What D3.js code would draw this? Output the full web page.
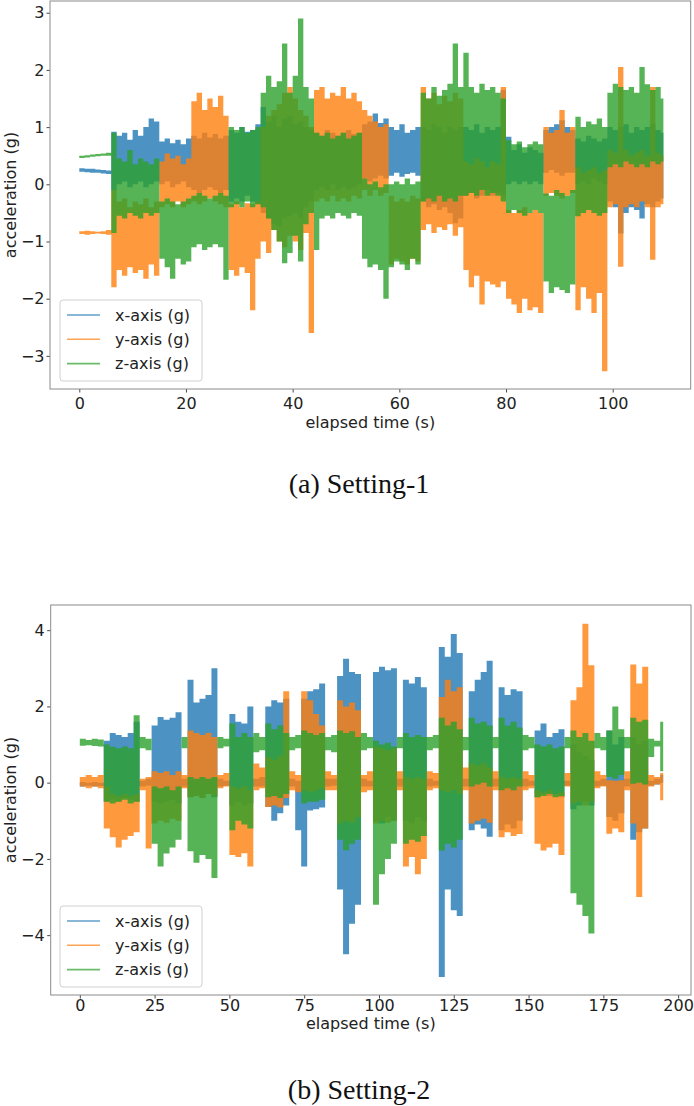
<!DOCTYPE html>
<html><head><meta charset="utf-8">
<script src="https://cdn.jsdelivr.net/npm/d3@7"></script>
<style>body{margin:0;background:#fff}svg{display:block}</style>
</head><body>
<script>
// ---------------- DATA ----------------
const seriesNames = ["x-axis (g)", "y-axis (g)", "z-axis (g)"];
const xTicks1 = [0, 20, 40, 60, 80, 100];
const yTicks1 = [-3, -2, -1, 0, 1, 2, 3];
const xTicks2 = [0, 25, 50, 75, 100, 125, 150, 175, 200];
const yTicks2 = [-4, -2, 0, 2, 4];
const captions = ["(a) Setting-1", "(b) Setting-2"];
const axisLabelX = "elapsed time (s)";
const axisLabelY = "acceleration (g)";

// Setting-1: per-second peak (hi) / trough (lo) readings, t = 0..109 s
const t1Start = 0, t1Step = 1;
const xHi1 = [0.28,0.27,0.27,0.26,0.25,0.24,
 0.92,0.85,0.9,0.78,0.95,0.85,1.0,1.15,1.1,
 0.75,0.8,0.72,0.78,0.7,0.8,
 0.85,0.8,0.9,0.82,0.88,0.8,0.85,
 0.95,0.9,1.0,0.92,0.95,1.05,
 1.35,1.1,1.2,1.0,1.15,1.2,1.05,1.1,1.0,0.95,
 0.9,0.85,0.95,0.9,0.85,0.9,0.95,0.88,0.9,
 1.05,1.1,1.24,1.07,1.15,
 1.0,0.95,1.05,0.9,0.95,1.0,
 1.0,0.95,1.05,1.0,0.9,1.0,0.95,1.0,
 1.0,0.95,1.05,0.9,1.0,0.95,1.0,1.65,
 0.83,0.6,0.7,0.55,0.65,0.6,0.55,
 0.95,1.0,1.05,1.12,1.0,0.95,
 0.8,0.75,0.85,0.8,0.75,0.8,
 1.0,0.95,1.0,1.05,0.9,1.0,0.95,1.0,1.05,0.95,0.9];
const xLo1 = [0.22,0.21,0.2,0.2,0.19,0.18,
 -0.1,0.0,0.05,-0.05,0.0,0.05,-0.05,0.0,0.05,
 0.0,0.05,-0.05,0.0,0.05,-0.05,
 -0.1,-0.15,-0.1,-0.05,-0.1,-0.15,-0.1,
 -0.3,-0.25,-0.3,-0.2,-0.3,-0.35,
 -0.5,-0.6,-0.7,-0.74,-0.6,-0.55,-0.5,-0.6,-0.4,-0.3,
 -0.1,-0.05,-0.1,0.0,-0.1,-0.05,-0.1,-0.05,0.0,
 0.1,0.05,0.1,0.15,0.1,
 0.15,0.2,0.13,0.18,0.2,0.15,
 -0.3,-0.4,-0.35,-0.45,-0.4,-0.5,-0.68,-0.6,
 -0.2,-0.15,-0.25,-0.2,-0.1,-0.2,-0.15,-0.2,
 0.0,0.05,0.0,0.05,0.0,0.05,0.0,
 0.2,0.25,0.2,0.15,0.2,0.2,
 0.0,0.05,0.0,0.1,0.05,0.0,
 -0.3,-0.4,-0.86,-0.5,-0.4,-0.45,-0.6,-0.35,-0.4,-0.3,-0.25];
const yHi1 = [-0.82,-0.81,-0.82,-0.83,-0.82,-0.8,
 -0.1,-0.3,-0.25,-0.4,-0.3,-0.35,-0.25,-0.4,-0.3,
 0.4,0.54,0.45,0.5,0.35,0.45,
 1.45,1.6,1.3,1.5,1.35,1.55,1.2,
 -0.35,-0.3,-0.4,-0.33,-0.35,-0.3,
 1.0,1.2,1.3,1.4,1.6,1.7,1.5,1.3,1.2,1.0,
 1.65,1.7,1.5,1.6,1.55,1.7,1.5,1.6,1.45,
 1.3,1.2,1.1,1.0,1.05,
 -0.2,-0.3,-0.25,-0.3,-0.2,-0.25,
 1.7,1.5,1.6,1.4,1.55,1.45,1.6,1.5,
 0.4,0.35,0.45,0.4,0.3,0.4,0.35,1.7,
 -0.45,-0.5,-0.45,-0.4,-0.5,-0.45,-0.5,
 1.0,0.9,0.95,1.3,0.9,1.0,
 0.3,0.2,0.25,0.3,0.2,0.25,
 0.6,0.55,2.05,0.6,0.5,0.55,0.6,0.5,1.7,0.55,0.5];
const yLo1 = [-0.87,-0.88,-0.87,-0.86,-0.87,-0.88,
 -1.8,-1.5,-1.6,-1.45,-1.55,-1.5,-1.65,-1.4,-1.6,
 -0.4,-0.35,-0.4,-0.3,-0.4,-0.35,
 -0.3,-0.35,-0.3,-0.25,-0.3,-0.35,-0.4,
 -1.5,-1.6,-1.45,-1.55,-2.2,-1.3,
 -1.0,-1.2,-0.8,-1.0,-1.1,-0.9,-1.0,-1.15,-0.85,-2.6,
 -0.3,-0.25,-0.3,-0.2,-0.3,-0.25,-0.3,-0.2,-0.25,
 -0.1,-0.2,-0.1,-0.2,-0.15,
 -1.4,-1.3,-1.35,-1.4,-1.3,-1.35,
 -0.8,-0.7,-0.85,-0.75,-0.8,-0.7,-0.9,-0.75,
 -1.5,-1.8,-1.6,-2.1,-1.7,-1.75,-1.8,-1.7,
 -2.0,-2.1,-2.25,-2.0,-2.2,-2.15,-2.25,
 -0.2,-0.15,-0.2,-0.25,-0.2,-0.15,
 -2.2,-1.8,-2.0,-2.25,-1.9,-3.27,
 -0.4,-0.35,-1.44,-0.4,-0.35,-0.4,-0.3,-0.4,-1.32,-0.4,-0.35];
const zHi1 = [0.5,0.51,0.52,0.53,0.54,0.55,
 0.9,0.45,0.4,0.6,0.35,0.45,0.4,0.35,0.45,
 -0.3,-0.25,-0.3,-0.35,-0.3,-0.25,
 -0.2,-0.15,-0.2,-0.25,-0.2,-0.15,-0.2,
 1.0,0.95,1.0,0.9,0.95,1.0,
 1.6,1.9,1.7,1.8,2.46,1.6,1.9,2.9,1.7,1.5,
 0.9,0.85,0.9,0.8,0.85,0.9,0.8,0.85,0.9,
 0.1,0.0,0.05,-0.05,0.0,
 0.0,0.05,0.0,0.1,0.0,0.05,
 1.6,1.5,1.7,1.55,1.65,1.76,2.46,1.7,
 2.3,1.7,1.6,1.76,1.65,1.7,1.6,1.5,
 0.77,0.7,0.75,0.65,0.7,0.75,0.7,
 -0.16,-0.2,-0.1,-0.15,-0.2,-0.1,
 1.18,1.0,1.1,1.05,1.15,1.0,
 1.6,1.76,1.7,1.65,1.7,1.6,2.05,1.75,1.65,1.7,1.5];
const zLo1 = [0.46,0.47,0.48,0.49,0.5,0.5,
 -0.85,-0.55,-0.6,-0.5,-0.55,-0.6,-0.5,-0.55,-0.5,
 -1.3,-1.45,-1.65,-1.3,-1.4,-1.35,
 -1.1,-1.05,-1.15,-1.1,-1.05,-1.1,-1.67,
 -0.4,-0.35,-0.4,-0.3,-0.4,-0.35,
 -0.4,-0.6,-0.8,-1.0,-1.38,-1.2,-0.9,-1.35,-0.7,-0.5,
 -1.15,-0.6,-0.55,-0.6,-0.5,-0.55,-0.6,-0.5,-0.55,
 -1.3,-1.45,-1.4,-1.5,-2.0,
 -1.45,-1.35,-1.4,-1.5,-1.3,-1.4,
 -0.3,-0.25,-0.3,-0.2,-0.3,-0.25,-0.3,-0.2,
 -0.2,-0.15,-0.2,-0.1,-0.2,-0.15,-0.2,-0.3,
 -0.5,-0.45,-0.5,-0.55,-0.5,-0.45,-0.5,
 -1.7,-1.9,-1.8,-1.85,-1.9,-1.75,
 -0.56,-0.5,-0.45,-0.5,-0.55,-0.5,
 0.3,0.35,0.3,0.4,0.35,0.3,0.35,0.3,0.4,0.35,0.4];

// Setting-2: per-2-second peak (hi) / trough (lo) readings, t = 0..194 s
const t2Start = 0, t2Step = 2;
const xHi2 = [0.02,0.0,0.02,0.0,
 1.1,1.3,1.25,1.2,1.3,1.6, 0.05,0.1,
 1.5,1.72,1.65,1.7,1.85, 0.1,
 2.7,2.1,2.2,2.3,3.0, 0.1,0.05,
 1.8,1.6,1.55,2.0, 0.1,0.15,
 2.0,2.16,2.1,2.2, 0.1,0.05,
 2.2,2.4,2.45,2.6, 0.1,0.1,
 2.8,3.25,2.9,2.85, 0.1,0.05,
 2.9,3.04,2.95,3.0, 0.1,
 2.7,2.6,2.77,2.5, 0.1,0.05,
 3.56,3.3,3.9,3.4, 0.1,
 2.4,2.7,2.9,3.2, 0.1,
 2.5,2.3,2.45,2.4, 0.1,0.05,
 1.37,1.55,1.2,1.3,1.4, 0.05,
 1.0,0.8,0.7,0.6, 0.05,0.1,
 1.37,1.0,1.2, 0.1,
 1.2,1.0,1.1, 0.05,0.1,0.2];
const xLo2 = [-0.1,-0.08,-0.1,-0.09,
 -0.5,-0.45,-0.5,-0.4,-0.45,-0.5, -0.1,-0.08,
 -0.5,-0.55,-0.5,-0.45,-0.55, -0.1,
 -0.38,-0.35,-0.4,-0.3,-0.38, -0.1,-0.08,
 -0.6,-0.5,-0.6,-0.55, -0.1,-0.1,
 -0.64,-1.0,-0.8,-0.6, -0.1,-1.25,
 -2.2,-0.73,-0.7,-0.65, -0.1,-0.08,
 -2.8,-4.5,-3.7,-3.2, -0.1,-0.1,
 -1.0,-1.07,-0.9,-1.0, -0.1,
 -1.0,-1.07,-0.9,-1.0, -0.1,-0.08,
 -5.1,-2.8,-3.35,-3.5, -0.1,
 -1.25,-1.1,-1.2,-1.42, -0.1,
 -1.25,-1.1,-1.2,-1.0, -0.1,-0.08,
 -0.38,-0.3,-0.35,-0.3,-0.38, -0.08,
 -0.7,-0.6,-0.5,-0.6, -0.1,-0.08,
 -0.9,-1.0,-0.8, -0.1,
 -1.5,-1.3,-1.2, -0.08,-0.05,0.0];
const yHi2 = [0.15,0.2,0.15,0.2,
 -0.1,-0.3,-0.35,-0.3,-0.35,-0.3, 0.1,0.15,
 0.3,0.25,0.3,0.2,0.3, 0.2,
 1.37,1.3,1.25,1.3,1.2, 0.2,0.25,
 -0.1,-0.15,-0.1,-0.2, 0.5,0.4,
 0.67,0.6,0.7,2.4, 0.3,0.2,
 2.4,2.16,1.8,1.5, 0.3,0.2,
 2.16,2.0,2.1,1.9, 0.2,0.3,
 0.94,0.9,0.85,0.9, 0.3,
 0.15,0.1,0.15,0.1, 0.3,0.25,
 2.25,2.7,2.4,2.5, 0.4,
 0.5,0.45,0.5,0.4, 0.3,
 0.15,0.1,0.15,0.1, 0.3,0.2,
 -0.2,-0.25,-0.2,-0.3,-0.25, 0.25,
 2.16,2.5,4.17,3.08, 0.3,0.2,
 0.06,0.05,0.06, 0.3,
 3.1,2.6,3.04, 0.2,0.15,0.25];
const yLo2 = [-0.1,-0.15,-0.1,-0.15,
 -1.2,-1.43,-1.7,-1.5,-1.4,-1.3, -0.2,-1.73,
 -1.07,-1.0,-1.05,-0.95,-1.0, -0.15,
 -0.38,-0.35,-0.4,-0.3,-0.35, -0.15,-0.1,
 -1.9,-1.95,-1.85,-2.2, -0.2,-0.15,
 -0.64,-0.6,-0.65,-0.4, -0.2,-0.25,
 -0.2,-0.25,-0.2,-0.15, -0.2,-0.2,
 -1.07,-1.0,-1.05,-0.9, -0.25,-0.2,
 -1.07,-1.0,-1.05,-1.0, -0.2,
 -2.2,-1.95,-2.4,-2.0, -0.2,-0.15,
 -0.2,-0.25,-0.2,-0.3, -0.2,
 -1.07,-1.0,-0.95,-1.05, -0.2,
 -1.43,-1.3,-1.4,-1.35, -0.2,-0.15,
 -1.6,-1.78,-1.7,-1.6,-1.9, -0.1,
 -0.55,-0.5,-0.6,-0.5, -0.15,-0.1,
 -1.34,-1.2,-1.3, -0.2,
 -1.07,-3.0,-1.2, -0.1,-0.05,-0.46];
const zHi2 = [1.15,1.12,1.15,1.13,
 1.0,0.94,0.9,0.95,0.9,1.77, 1.2,1.15,
 -0.1,-0.15,-0.1,-0.2,-0.1, 1.2,
 0.15,0.1,0.15,0.1,0.15, 1.2,1.15,
 1.55,1.2,1.3,1.2, 1.3,1.2,
 1.55,1.4,1.5,1.3, 1.2,1.25,
 1.37,1.3,1.25,1.3, 1.2,1.25,
 1.37,1.3,1.35,1.2, 1.3,1.2,
 1.1,1.0,1.05,0.95, 1.2,
 1.3,1.2,1.25,1.2, 1.2,1.25,
 1.7,1.5,1.6,1.4, 1.2,
 1.7,1.55,1.6,1.5, 1.2,
 1.7,1.5,1.6,1.45, 1.25,1.2,
 1.0,0.95,1.0,0.9,0.95, 1.2,
 1.37,1.2,1.3,1.1, 1.3,1.2,
 1.37,2.0,1.4, 1.2,
 1.7,1.6,1.65, 1.15,1.1,1.6];
const zLo2 = [0.97,0.98,0.96,0.95,
 -0.5,-0.55,-0.5,-0.45,-0.55,-0.5, 0.9,0.85,
 -1.6,-2.2,-1.86,-1.7,-1.5, 0.9,
 -1.8,-2.1,-1.9,-2.0,-2.5, 0.9,0.95,
 -1.25,-1.0,-1.1,-1.2, 0.8,0.85,
 -0.38,-0.35,-0.4,-0.3, 0.85,0.9,
 -0.55,-0.5,-0.5,-0.45, 0.85,0.8,
 -1.5,-1.77,-1.6,-1.5, 0.85,0.9,
 -3.2,-2.4,-2.0,-1.6, 0.9,
 -1.6,-1.5,-1.55,-1.4, 0.85,0.9,
 -1.78,-1.6,-1.7,-1.5, 0.85,
 -0.1,-0.05,0.0,-0.1, 0.9,
 -0.2,-0.15,-0.2,-0.1, 0.85,0.9,
 -0.38,-0.35,-0.3,-0.38,-0.35, 0.9,
 -2.9,-3.2,-3.5,-3.96, 0.9,0.85,
 0.15,0.1,0.2, 0.9,
 -0.03,0.0,-0.05, 0.67,0.95,0.3];

// ---------------- STYLE / LAYOUT ----------------
const colors = ["#1f77b4", "#ff7f0e", "#2ca02c"];
const W = 694, H = 1106;
const FONT = "'DejaVu Sans', sans-serif";

const panels = [
  { left: 50, right: 690.7, top: 1, bottom: 389, xDomain: [-5.49, 114.62], yDomain: [-3.579, 3.205],
    xTicks: xTicks1, yTicks: yTicks1, t0: t1Start, step: t1Step,
    series: [[xHi1, xLo1], [yHi1, yLo1], [zHi1, zLo1]],
    xPad: 5, yPad: 2, xLabelY: 428, captionY: 493, legend: { x: 60, y: 300, w: 142, h: 81 } },
  { left: 50.7, right: 691, top: 605, bottom: 995, xDomain: [-9.73, 204.3], yDomain: [-5.57, 4.66],
    xTicks: xTicks2, yTicks: yTicks2, t0: t2Start, step: t2Step,
    series: [[xHi2, xLo2], [yHi2, yLo2], [zHi2, zLo2]],
    xPad: 1.5, yPad: 2.5, xLabelY: 1029, captionY: 1099, legend: { x: 60, y: 906, w: 142, h: 81 } }
];

const svg = d3.select("body").append("svg").attr("width", W).attr("height", H)
  .attr("viewBox", `0 0 ${W} ${H}`);
svg.append("rect").attr("width", W).attr("height", H).attr("fill", "#fff");

panels.forEach((p, pi) => {
  const x = d3.scaleLinear().domain(p.xDomain).range([p.left, p.right]);
  const y = d3.scaleLinear().domain(p.yDomain).range([p.bottom, p.top]);

  const clipId = "clip" + pi;
  svg.append("clipPath").attr("id", clipId).append("rect")
    .attr("x", p.left).attr("y", p.top).attr("width", p.right - p.left).attr("height", p.bottom - p.top);

  const plot = svg.append("g").attr("clip-path", `url(#${clipId})`);
  p.series.forEach(([hi, lo], si) => {
    const n = Math.min(hi.length, lo.length);
    const rows = d3.range(n).map(i => ({ t: p.t0 + i * p.step, hi: hi[i], lo: lo[i] }));
    const last = rows[rows.length - 1];
    const stepRows = rows.concat([{ t: last.t + p.step * 0.5, hi: last.hi, lo: last.lo }]);
    const g = plot.append("g").attr("opacity", 0.8);
    const area = d3.area().curve(d3.curveStepAfter)
      .x(r => x(r.t)).y0(r => y(r.lo)).y1(r => y(r.hi));
    g.append("path").attr("d", area(stepRows)).attr("fill", colors[si]);
  });

  // axes
  const xAxis = d3.axisBottom(x).tickValues(p.xTicks).tickSize(3.5).tickPadding(p.xPad).tickFormat(d3.format("d"));
  const gx = svg.append("g").attr("transform", `translate(0,${p.bottom})`).call(xAxis);
  const yAxis = d3.axisLeft(y).tickValues(p.yTicks).tickSize(3.5).tickPadding(p.yPad).tickFormat(d3.format("d"));
  const gy = svg.append("g").attr("transform", `translate(${p.left},0)`).call(yAxis);
  [gx, gy].forEach(g => {
    g.select(".domain").remove();
    g.selectAll(".tick line").attr("stroke", "#333").attr("stroke-width", 0.9);
    g.selectAll(".tick text").attr("font-family", FONT).attr("font-size", 16).attr("fill", "#222");
  });

  // frame
  svg.append("rect").attr("x", p.left).attr("y", p.top)
    .attr("width", p.right - p.left).attr("height", p.bottom - p.top)
    .attr("fill", "none").attr("stroke", "#8a8a8a").attr("stroke-width", 1);

  // axis labels
  svg.append("text").attr("x", (p.left + p.right) / 2).attr("y", p.xLabelY)
    .attr("text-anchor", "middle").attr("font-family", FONT).attr("font-size", 16).attr("fill", "#222")
    .text(axisLabelX);
  const cy = (p.top + p.bottom) / 2;
  svg.append("text").attr("transform", `translate(16,${cy}) rotate(-90)`)
    .attr("text-anchor", "middle").attr("font-family", FONT).attr("font-size", 16).attr("fill", "#222")
    .text(axisLabelY);

  // legend
  const L = p.legend;
  const lg = svg.append("g");
  lg.append("rect").attr("x", L.x).attr("y", L.y).attr("width", L.w).attr("height", L.h)
    .attr("rx", 3).attr("fill", "#fff").attr("fill-opacity", 0.8)
    .attr("stroke", "#d0d0d0").attr("stroke-width", 1);
  seriesNames.forEach((name, i) => {
    const ry = L.y + 15 + i * 24.3;
    lg.append("line").attr("x1", L.x + 7).attr("x2", L.x + 40).attr("y1", ry).attr("y2", ry)
      .attr("stroke", colors[i]).attr("stroke-width", 1.6).attr("opacity", 0.7);
    lg.append("text").attr("x", L.x + 55).attr("y", ry).attr("dy", "0.35em")
      .attr("font-family", FONT).attr("font-size", 16).attr("fill", "#222").text(name);
  });

  // caption
  svg.append("text").attr("x", 359).attr("y", p.captionY).attr("text-anchor", "middle")
    .attr("font-family", "'Liberation Serif', 'Times New Roman', serif").attr("font-size", 28)
    .attr("fill", "#111").text(captions[pi]);
});
</script>
</body></html>
